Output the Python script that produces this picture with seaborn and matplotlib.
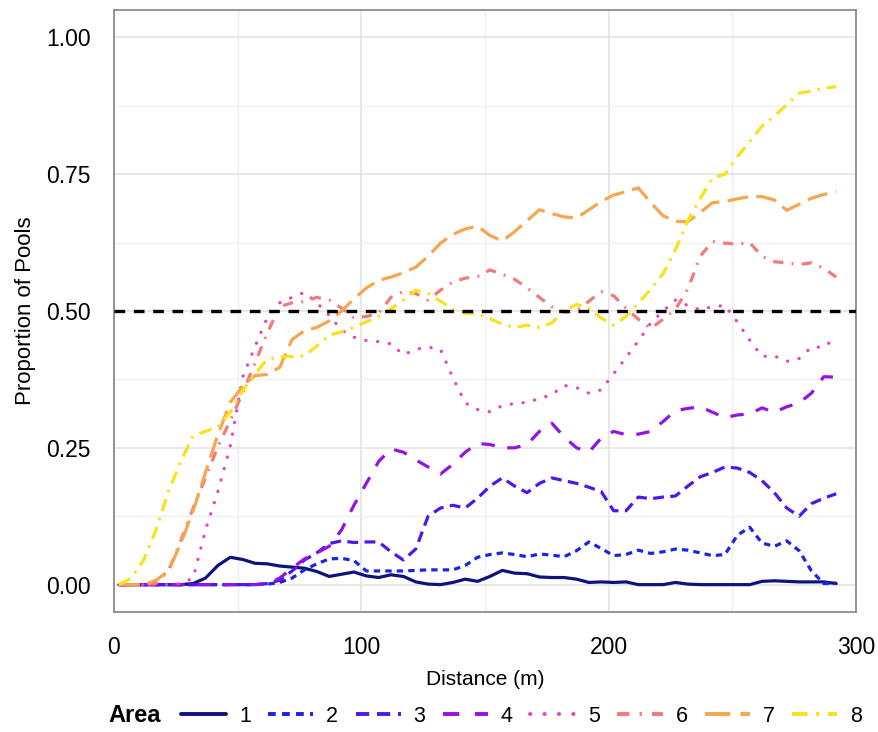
import numpy as np
import pandas as pd
import matplotlib
matplotlib.use("Agg")
import matplotlib.pyplot as plt
from matplotlib.lines import Line2D
from matplotlib.ticker import MultipleLocator
import seaborn as sns

# ── Data ──────────────────────────────────────────────────────────────────────
distance = list(range(2, 293, 5))

area_1 = [0, 0, 0, 0, 0, 0, 0.002, 0.012, 0.035, 0.05, 0.046, 0.039, 0.038, 0.034, 0.032,
          0.03, 0.024, 0.015, 0.019, 0.023, 0.016, 0.013, 0.018, 0.015, 0.005, 0.001, 0,
          0.004, 0.01, 0.006, 0.015, 0.026, 0.021, 0.02, 0.014, 0.013, 0.013, 0.01, 0.004,
          0.005, 0.004, 0.005, 0, 0, 0, 0.004, 0.001, 0, 0, 0, 0, 0, 0.006, 0.007, 0.006,
          0.005, 0.005, 0.005, 0.002]
area_2 = [0, 0, 0, 0, 0, 0, 0, 0, 0, 0, 0, 0, 0.001, 0.004, 0.012, 0.027, 0.038, 0.047,
          0.048, 0.044, 0.025, 0.025, 0.025, 0.025, 0.026, 0.027, 0.027, 0.027, 0.035, 0.05,
          0.055, 0.058, 0.055, 0.051, 0.056, 0.054, 0.051, 0.062, 0.078, 0.066, 0.053, 0.055,
          0.063, 0.057, 0.06, 0.065, 0.063, 0.058, 0.053, 0.055, 0.09, 0.105, 0.076, 0.07,
          0.08, 0.062, 0.025, 0.002, 0.003]
area_3 = [0, 0, 0, 0, 0, 0, 0, 0, 0, 0, 0, 0, 0.002, 0.008, 0.025, 0.045, 0.058, 0.075,
          0.08, 0.077, 0.078, 0.078, 0.06, 0.045, 0.065, 0.125, 0.14, 0.145, 0.14, 0.158,
          0.18, 0.195, 0.18, 0.168, 0.185, 0.195, 0.19, 0.185, 0.178, 0.17, 0.135, 0.135,
          0.16, 0.157, 0.16, 0.162, 0.18, 0.197, 0.205, 0.215, 0.213, 0.205, 0.19, 0.168,
          0.14, 0.125, 0.148, 0.158, 0.166]
area_4 = [0, 0, 0, 0, 0, 0, 0, 0, 0, 0, 0, 0, 0.001, 0.012, 0.03, 0.047, 0.058, 0.07, 0.1,
          0.145, 0.185, 0.225, 0.248, 0.242, 0.228, 0.215, 0.202, 0.22, 0.242, 0.258, 0.256,
          0.25, 0.25, 0.256, 0.28, 0.295, 0.27, 0.25, 0.242, 0.268, 0.28, 0.274, 0.275, 0.28,
          0.298, 0.318, 0.322, 0.325, 0.315, 0.305, 0.31, 0.312, 0.323, 0.315, 0.325, 0.332,
          0.35, 0.38, 0.379]
area_5 = [0, 0, 0, 0, 0, 0.002, 0.012, 0.1, 0.17, 0.253, 0.379, 0.435, 0.488, 0.515, 0.525,
          0.534, 0.515, 0.492, 0.465, 0.452, 0.446, 0.444, 0.44, 0.42, 0.43, 0.434, 0.43,
          0.378, 0.332, 0.32, 0.316, 0.327, 0.331, 0.333, 0.34, 0.347, 0.364, 0.36, 0.35,
          0.356, 0.385, 0.415, 0.445, 0.478, 0.5, 0.52, 0.51, 0.502, 0.508, 0.51, 0.48,
          0.447, 0.417, 0.418, 0.408, 0.413, 0.434, 0.434, 0.452]
area_6 = [0, 0, 0, 0.003, 0.025, 0.08, 0.14, 0.195, 0.252, 0.3, 0.35, 0.405, 0.46, 0.508,
          0.515, 0.517, 0.525, 0.52, 0.505, 0.487, 0.49, 0.496, 0.525, 0.536, 0.532, 0.52,
          0.538, 0.553, 0.56, 0.563, 0.575, 0.567, 0.558, 0.542, 0.525, 0.508, 0.498, 0.5,
          0.518, 0.535, 0.528, 0.505, 0.485, 0.468, 0.485, 0.503, 0.54, 0.6, 0.627, 0.624,
          0.622, 0.625, 0.6, 0.59, 0.588, 0.585, 0.588, 0.578, 0.562]
area_7 = [0, 0, 0, 0.008, 0.025, 0.075, 0.135, 0.205, 0.274, 0.333, 0.362, 0.382, 0.384,
          0.397, 0.448, 0.464, 0.47, 0.482, 0.5, 0.522, 0.542, 0.556, 0.562, 0.57, 0.58, 0.6,
          0.624, 0.64, 0.65, 0.655, 0.638, 0.628, 0.645, 0.665, 0.685, 0.678, 0.672, 0.67,
          0.685, 0.7, 0.712, 0.718, 0.725, 0.698, 0.674, 0.664, 0.663, 0.68, 0.698, 0.7,
          0.705, 0.709, 0.709, 0.703, 0.684, 0.695, 0.706, 0.713, 0.718]
area_8 = [0, 0.012, 0.045, 0.1, 0.17, 0.225, 0.272, 0.28, 0.288, 0.315, 0.355, 0.385, 0.412,
          0.416, 0.417, 0.418, 0.436, 0.456, 0.462, 0.47, 0.48, 0.49, 0.504, 0.52, 0.538,
          0.532, 0.518, 0.503, 0.496, 0.495, 0.486, 0.476, 0.47, 0.474, 0.47, 0.478, 0.5,
          0.512, 0.505, 0.487, 0.474, 0.49, 0.514, 0.54, 0.568, 0.612, 0.665, 0.705, 0.743,
          0.75, 0.782, 0.809, 0.838, 0.856, 0.877, 0.898, 0.902, 0.907, 0.91]

areas = ['1', '2', '3', '4', '5', '6', '7', '8']
threshold = 0.5

# ── Styling ───────────────────────────────────────────────────────────────────
colors = ['#10127a', '#1c22e6', '#4f16ec', '#9312e6', '#e343c4', '#f27a7c', '#f6a650', '#f8e21c']
dashes = ['', (2.0, 1.6), (3.4, 2.0), (4.2, 4.0), (0.1, 3.6), (3.2, 2.6, 0.6, 2.6),
          (6.5, 2.6), (4.0, 2.2, 0.8, 2.2)]
palette = dict(zip(areas, colors))
dash_map = dict(zip(areas, dashes))

series = [area_1, area_2, area_3, area_4, area_5, area_6, area_7, area_8]
df = pd.concat([pd.DataFrame({'Distance': distance, 'Proportion': vals, 'Area': a})
                for a, vals in zip(areas, series)], ignore_index=True)

sns.set_style('white')
plt.rcParams['font.family'] = ['Liberation Sans', 'DejaVu Sans']
plt.rcParams['text.color'] = 'black'

fig = plt.figure(figsize=(8.79, 7.32), dpi=100)
ax = fig.add_axes([114 / 879, 120 / 732, 742 / 879, 602 / 732])

sns.lineplot(data=df, x='Distance', y='Proportion', hue='Area', style='Area',
             palette=palette, dashes=dash_map, linewidth=2.3, legend=False, ax=ax)
for line, a in zip(ax.lines, areas):
    if a == '5':
        line.set_dash_capstyle('round')

ax.axhline(threshold, color='black', linewidth=2.4, dashes=(3.2, 2.6), zorder=5)

ax.set_xlim(0, 300)
ax.set_ylim(-0.05, 1.05)
ax.xaxis.set_major_locator(MultipleLocator(100))
ax.xaxis.set_minor_locator(MultipleLocator(50))
ax.yaxis.set_major_locator(MultipleLocator(0.25))
ax.yaxis.set_minor_locator(MultipleLocator(0.125))
ax.set_yticklabels([f'{t:.2f}' for t in ax.get_yticks()])
ax.grid(which='major', color='#e4e4e4', linewidth=1.2)
ax.grid(which='minor', color='#efefef', linewidth=1.0)
ax.set_axisbelow(True)
for sp in ax.spines.values():
    sp.set_color('#8c8c8c')
    sp.set_linewidth(1.3)
ax.tick_params(which='major', direction='out', length=10, width=1.8, color='black',
               labelsize=16.5, labelcolor='black', pad=7)
ax.tick_params(which='minor', length=0)
ax.set_xlabel('Distance (m)', fontsize=15, color='black', labelpad=8)
ax.set_ylabel('Proportion of Pools', fontsize=16, color='black', labelpad=7)

# legend along the bottom, title on the left
handles = []
for a in areas:
    h = Line2D([], [], color=palette[a], linewidth=2.8)
    if dash_map[a]:
        h.set_dashes(dash_map[a])
    if a == '5':
        h.set_dash_capstyle('round')
    handles.append(h)
fig.text(108 / 879, 16 / 732, 'Area', fontsize=17, fontweight='bold', va='center', ha='left')
leg = fig.legend(handles, areas, loc='center left', bbox_to_anchor=(181 / 879, 16 / 732),
                 ncol=8, frameon=False, fontsize=15.5, handlelength=2.1, handletextpad=0.6,
                 columnspacing=0.8, borderaxespad=0, borderpad=0)
for t in leg.get_texts():
    t.set_color('black')

fig.savefig('out.png', dpi=100)
